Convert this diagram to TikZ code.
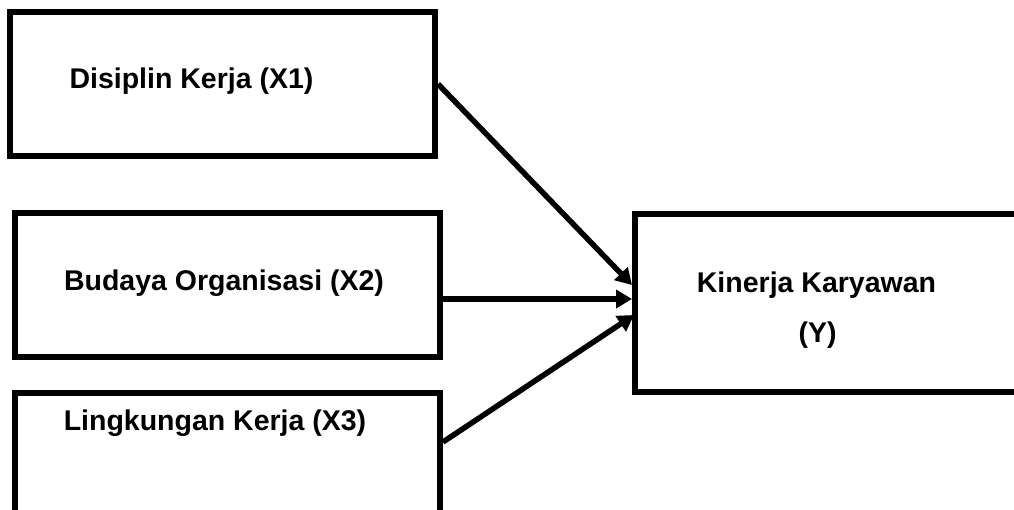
\documentclass[tikz,border=0pt]{standalone}
\usepackage{fontspec}
\setmainfont{Liberation Sans}
\usetikzlibrary{arrows.meta}
\begin{document}
\begin{tikzpicture}[x=1pt,y=-1pt,
  box/.style={draw, line width=6pt, rectangle, inner sep=0pt},
  lbl/.style={font=\bfseries\fontsize{28.5}{34}\selectfont, inner sep=0pt, anchor=base},
  arr/.style={line width=5.5pt, -{Triangle[length=16pt,width=18pt]}}]
\useasboundingbox (0,0) rectangle (1014,509);
\clip (0,0) rectangle (1014,509);
% boxes
\node[box, minimum width=425pt, minimum height=144pt] (b1) at (222.5,84) {};
\node[box, minimum width=425.5pt, minimum height=143.5pt] (b2) at (227.25,284.75) {};
\node[box, minimum width=425.5pt, minimum height=147pt] (b3) at (227.25,466.5) {};
\node[box, minimum width=405pt, minimum height=178.5pt] (b4) at (837.5,302.75) {};
% labels
\node[lbl] (t1) at (191.5,88) {Disiplin Kerja (X1)};
\node[lbl] (t2) at (224,290) {Budaya Organisasi (X2)};
\node[lbl] (t3) at (215,430) {Lingkungan Kerja (X3)};
\node[lbl] (t4) at (816.5,292) {Kinerja Karyawan};
\node[lbl] (t5) at (817.5,342) {(Y)};
% arrows
\draw[arr] (b1.east) -- ([yshift=17.75pt]b4.west);
\draw[arr] ([yshift=-14.25pt]b2.east) -- ([yshift=3.75pt]b4.west);
\draw[arr] ([yshift=24.5pt]b3.east) -- ([yshift=-12.25pt,xshift=2pt]b4.west);
\end{tikzpicture}
\end{document}
